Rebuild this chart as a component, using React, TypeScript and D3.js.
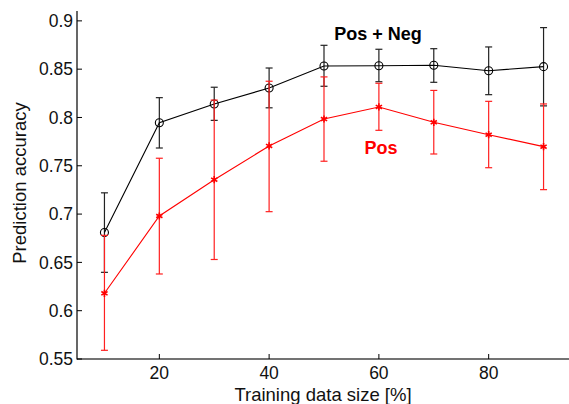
import React from "react";
import * as d3 from "d3";

// training data size [%]
const sizes = [10, 20, 30, 40, 50, 60, 70, 80, 90];

// Pos + Neg
const bothMean = [0.681, 0.7946, 0.814, 0.8305, 0.8533, 0.8536, 0.854, 0.8484, 0.8526];
const bothLow = [0.6397, 0.7684, 0.797, 0.81, 0.8323, 0.837, 0.8364, 0.8236, 0.812];
const bothHigh = [0.722, 0.8205, 0.8313, 0.8512, 0.8747, 0.8706, 0.8712, 0.873, 0.893];

// Pos only
const posMean = [0.618, 0.698, 0.7356, 0.7705, 0.7984, 0.8109, 0.795, 0.7822, 0.7698];
const posLow = [0.559, 0.638, 0.653, 0.7025, 0.7547, 0.7867, 0.7622, 0.748, 0.7253];
const posHigh = [0.678, 0.7578, 0.818, 0.8375, 0.842, 0.8354, 0.828, 0.8167, 0.814];

const yTicks = [0.55, 0.6, 0.65, 0.7, 0.75, 0.8, 0.85, 0.9];
const xTicks = [20, 40, 60, 80];

const W = 569;
const H = 404;
const font = "'Liberation Sans', Arial, sans-serif";

const App = () => {
  const x = d3.scaleLinear().domain([5, 95]).range([77, 571]);
  const y = d3.scaleLinear().domain([0.55, 0.91]).range([359, 11.2]);

  const line = d3
    .line<number>()
    .x((_, i) => x(sizes[i]))
    .y((d) => y(d));

  const star = d3.symbol().type(d3.symbolAsterisk).size(36)();
  const cap = 3.5;

  const errorBars = (low: number[], high: number[], color: string, key: string) =>
    sizes.map((s, i) => {
      const cx = x(s);
      return (
        <g key={key + i} stroke={color} strokeWidth={1.2}>
          <line x1={cx} x2={cx} y1={y(low[i])} y2={y(high[i])} />
          <line x1={cx - cap} x2={cx + cap} y1={y(low[i])} y2={y(low[i])} />
          <line x1={cx - cap} x2={cx + cap} y1={y(high[i])} y2={y(high[i])} />
        </g>
      );
    });

  return (
    <svg
      width={W}
      height={H}
      style={{ position: "absolute", left: 0, top: 0, background: "#fff" }}
      fontFamily={font}
    >
      {/* axes */}
      <line x1={77} x2={W} y1={359} y2={359} stroke="#444" strokeWidth={1.5} />
      <line x1={77} x2={77} y1={11} y2={359.5} stroke="#000" strokeWidth={1.2} />

      {yTicks.map((t) => (
        <g key={"y" + t}>
          <line x1={77} x2={82} y1={y(t)} y2={y(t)} stroke="#000" />
          <text x={73} y={y(t)} dy="0.35em" textAnchor="end" fontSize={17.5} fill="#111">
            {String(t)}
          </text>
        </g>
      ))}
      {xTicks.map((t) => (
        <g key={"x" + t}>
          <line x1={x(t)} x2={x(t)} y1={359} y2={354} stroke="#000" />
          <text x={x(t)} y={379} textAnchor="middle" fontSize={17.5} fill="#111">
            {t}
          </text>
        </g>
      ))}

      <text x={323} y={401} textAnchor="middle" fontSize={18.5} fill="#111">
        Training data size [%]
      </text>
      <text
        transform="translate(26,183) rotate(-90)"
        textAnchor="middle"
        fontSize={18.5}
        fill="#111"
      >
        Prediction accuracy
      </text>

      {/* Pos + Neg */}
      {errorBars(bothLow, bothHigh, "#222", "b")}
      <path d={line(bothMean) ?? ""} fill="none" stroke="#000" strokeWidth={1.1} />
      {bothMean.map((v, i) => (
        <circle key={"c" + i} cx={x(sizes[i])} cy={y(v)} r={4} fill="none" stroke="#000" strokeWidth={1.1} />
      ))}

      {/* Pos */}
      {errorBars(posLow, posHigh, "#ff2020", "p")}
      <path d={line(posMean) ?? ""} fill="none" stroke="#ff0000" strokeWidth={1.1} />
      {posMean.map((v, i) => (
        <path
          key={"s" + i}
          d={star ?? ""}
          transform={`translate(${x(sizes[i])},${y(v)})`}
          fill="none"
          stroke="#ff0000"
          strokeWidth={1.6}
        />
      ))}

      <text x={378} y={40} textAnchor="middle" fontSize={18} fontWeight="bold" fill="#000">
        Pos + Neg
      </text>
      <text x={381} y={154} textAnchor="middle" fontSize={18} fontWeight="bold" fill="#ff0000">
        Pos
      </text>
    </svg>
  );
};

export default App;
